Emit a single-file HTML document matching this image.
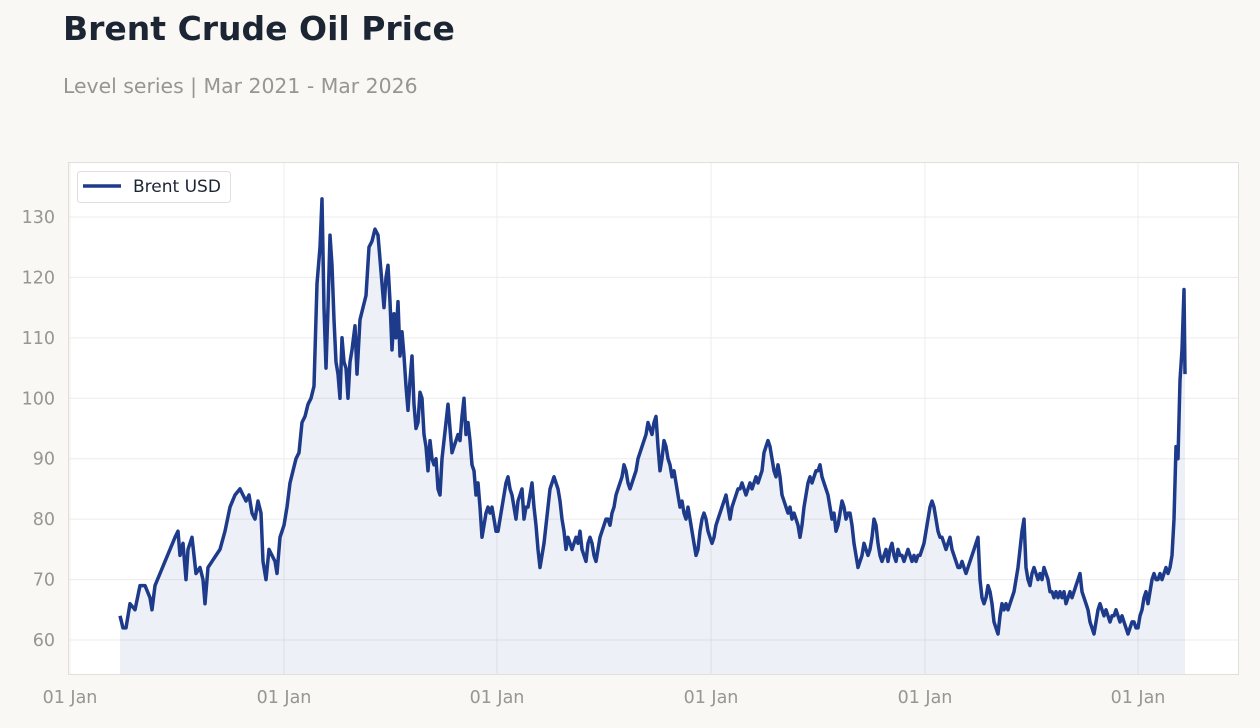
<!DOCTYPE html>
<html><head><meta charset="utf-8"><style>
body{margin:0;width:1260px;height:728px;background:#f9f8f5;font-family:"Liberation Sans","DejaVu Sans",sans-serif;overflow:hidden;position:relative}
h1{position:absolute;left:63px;top:9px;margin:0;font-size:33px;font-weight:bold;color:#1c2533;font-family:"DejaVu Sans","Liberation Sans",sans-serif}
.sub{position:absolute;left:63px;top:74px;font-size:20.4px;color:#999590;font-family:"DejaVu Sans","Liberation Sans",sans-serif}
svg{position:absolute;left:0;top:0}
</style></head><body>
<h1>Brent Crude Oil Price</h1>
<div class="sub">Level series | Mar 2021 - Mar 2026</div>
<svg width="1260" height="728" id="s" font-family="DejaVu Sans, Liberation Sans, sans-serif">
<rect x="68.5" y="162.5" width="1170" height="512" fill="#fff" stroke="#e2ded8"/>
<g id="grid" stroke="#eeecea" stroke-width="1"></g>
<path id="area" fill="#1f3a8a" fill-opacity="0.08"/>
<path id="line" fill="none" stroke="#1e3a8a" stroke-width="3.5" stroke-linejoin="round"/>
<g id="lab" fill="#999590" font-size="17.5"></g>
<rect x="77.5" y="171.5" width="153" height="31" rx="3" fill="#fff" stroke="#e2ded8"/>
<line x1="83" y1="186" x2="121" y2="186" stroke="#1e3a8a" stroke-width="3.5"/>
<text x="133" y="192" font-size="17" fill="#1c2533">Brent USD</text>
</svg>
<script>
var d="120:64,123:62,126:62,130:66,135:65,140:69,145:69,150:67,152:65,155:69,160:71,165:73,170:75,175:77,178:78,180:74,183:76,186:70,188:75,192:77,196:71,200:72,203:70,205:66,208:72,212:73,216:74,220:75,225:78,230:82,235:84,240:85,243:84,246:83,249:84,252:81,255:80,258:83,261:81,263:73,266:70,269:75,272:74,275:73,277:71,280:77,284:79,287:82,290:86,293:88,296:90,299:91,302:96,305:97,308:99,311:100,314:102,317:119,320:125,322:133,324:115,326:105,328:115,330:127,332:122,334:113,336:106,338:104,340:100,342:110,344:106,346:105,348:100,350:106,352:108,355:112,357:104,360:113,363:115,366:117,369:125,372:126,375:128,378:127,381:121,384:115,386:120,388:122,390:116,392:108,394:114,396:110,398:116,400:107,402:111,404:107,406:102,408:98,410:103,412:107,414:99,416:95,418:96,420:101,422:100,424:94,426:92,428:88,430:93,432:90,434:89,436:90,438:85,440:84,442:90,444:93,446:96,448:99,450:95,452:91,454:92,456:93,458:94,460:93,462:97,464:100,466:94,468:96,470:93,472:89,474:88,476:84,478:86,480:82,482:77,484:79,486:81,488:82,490:81,492:82,494:80,496:78,498:78,500:80,502:82,504:84,506:86,508:87,510:85,512:84,514:82,516:80,518:83,520:84,522:85,524:80,526:82,528:82,530:84,532:86,534:82,536:79,538:75,540:72,542:74,544:76,546:79,548:82,550:85,552:86,554:87,556:86,558:85,560:83,562:80,564:78,566:75,568:77,570:76,572:75,574:76,576:77,578:76,580:78,582:75,584:74,586:73,588:76,590:77,592:76,594:74,596:73,598:75,600:77,602:78,604:79,606:80,608:80,610:79,612:81,614:82,616:84,618:85,620:86,622:87,624:89,626:88,628:86,630:85,632:86,634:87,636:88,638:90,640:91,642:92,644:93,646:94,648:96,650:95,652:94,654:96,656:97,658:92,660:88,662:90,664:93,666:92,668:90,670:89,672:87,674:88,676:86,678:84,680:82,682:83,684:81,686:80,688:82,690:80,692:78,694:76,696:74,698:75,700:78,702:80,704:81,706:80,708:78,710:77,712:76,714:77,716:79,718:80,720:81,722:82,724:83,726:84,728:82,730:80,732:82,734:83,736:84,738:85,740:85,742:86,744:85,746:84,748:85,750:86,752:85,754:86,756:87,758:86,760:87,762:88,764:91,766:92,768:93,770:92,772:90,774:88,776:87,778:89,780:87,782:84,784:83,786:82,788:81,790:82,792:80,794:81,796:80,798:79,800:77,802:79,804:82,806:84,808:86,810:87,812:86,814:87,816:88,818:88,820:89,822:87,824:86,826:85,828:84,830:82,832:80,834:81,836:78,838:79,840:81,842:83,844:82,846:80,848:81,850:81,852:79,854:76,856:74,858:72,860:73,862:74,864:76,866:75,868:74,870:75,872:77,874:80,876:79,878:76,880:74,882:73,884:74,886:75,888:73,890:75,892:76,894:74,896:73,898:75,900:74,902:74,904:73,906:74,908:75,910:74,912:73,914:74,916:73,918:74,920:74,922:75,924:76,926:78,928:80,930:82,932:83,934:82,936:80,938:78,940:77,942:77,944:76,946:75,948:76,950:77,952:75,954:74,956:73,958:72,960:72,962:73,964:72,966:71,968:72,970:73,972:74,974:75,976:76,978:77,980:70,982:67,984:66,986:67,988:69,990:68,992:66,994:63,996:62,998:61,1000:64,1002:66,1004:65,1006:66,1008:65,1010:66,1012:67,1014:68,1016:70,1018:72,1020:75,1022:78,1024:80,1026:72,1028:70,1030:69,1032:71,1034:72,1036:71,1038:70,1040:71,1042:70,1044:72,1046:71,1048:70,1050:68,1052:68,1054:67,1056:68,1058:67,1060:68,1062:67,1064:68,1066:66,1068:67,1070:68,1072:67,1074:68,1076:69,1078:70,1080:71,1082:68,1084:67,1086:66,1088:65,1090:63,1092:62,1094:61,1096:63,1098:65,1100:66,1102:65,1104:64,1106:65,1108:64,1110:63,1112:64,1114:64,1116:65,1118:64,1120:63,1122:64,1124:63,1126:62,1128:61,1130:62,1132:63,1134:63,1136:62,1138:62,1140:64,1142:65,1144:67,1146:68,1148:66,1150:68,1152:70,1154:71,1156:70,1158:70,1160:71,1162:70,1164:71,1166:72,1168:71,1170:72,1172:74,1174:80,1176:92,1178:90,1180:103,1182:108,1184:118,1185:104";
function Y(v){return 640-(v-60)*6.043}
var pts=d.split(",").map(function(p){var a=p.split(":");return [+a[0],Y(+a[1])]});
var l="M"+pts.map(function(p){return p[0]+","+p[1].toFixed(1)}).join("L");
document.getElementById("line").setAttribute("d",l);
document.getElementById("area").setAttribute("d",l+"L1185,674L120,674Z");
var g=document.getElementById("grid"),lab=document.getElementById("lab"),ns="http://www.w3.org/2000/svg";
for(var v=60;v<=130;v+=10){var y=Y(v);var e=document.createElementNS(ns,"line");e.setAttribute("x1",69);e.setAttribute("x2",1238);e.setAttribute("y1",y);e.setAttribute("y2",y);g.appendChild(e);
var t=document.createElementNS(ns,"text");t.setAttribute("x",55);t.setAttribute("y",y+6);t.setAttribute("text-anchor","end");t.textContent=v;lab.appendChild(t);}
[70,284,497,711,925,1138].forEach(function(x){var e=document.createElementNS(ns,"line");e.setAttribute("x1",x);e.setAttribute("x2",x);e.setAttribute("y1",163);e.setAttribute("y2",674);g.appendChild(e);
var t=document.createElementNS(ns,"text");t.setAttribute("x",x);t.setAttribute("y",703);t.setAttribute("text-anchor","middle");t.textContent="01 Jan";lab.appendChild(t);});
</script>
</body></html>
